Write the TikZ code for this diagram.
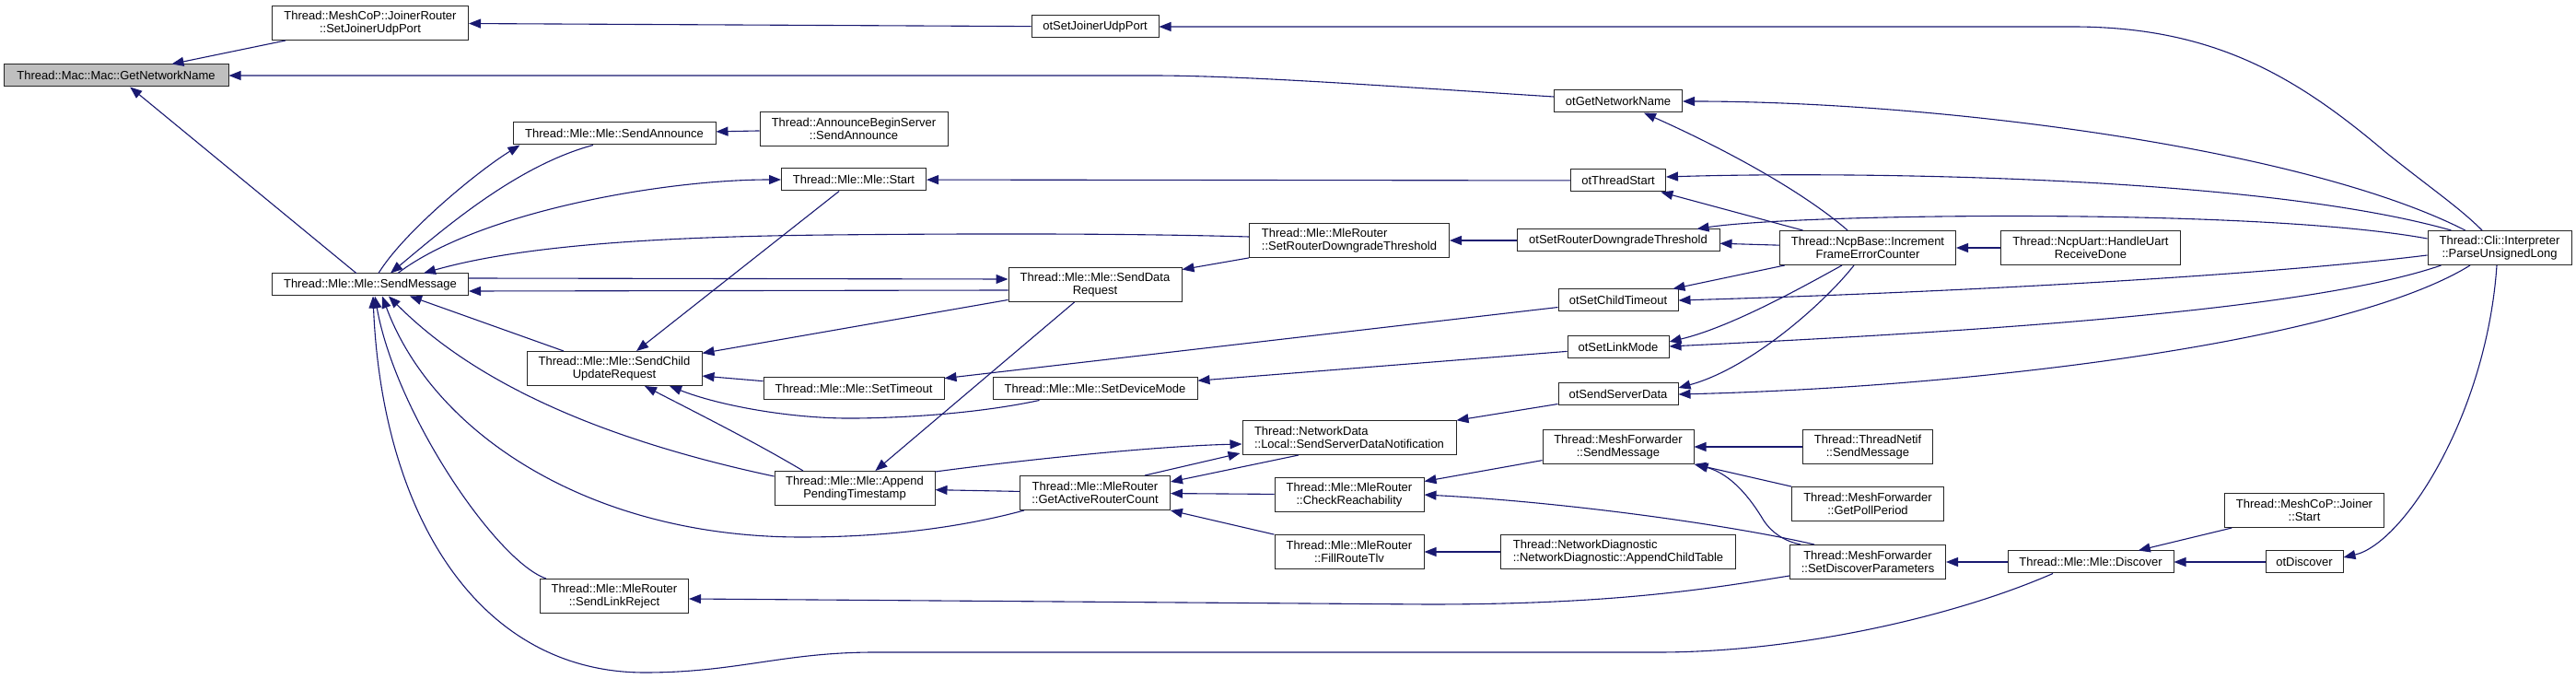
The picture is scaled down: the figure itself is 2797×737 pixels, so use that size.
\documentclass[tikz,border=0pt]{standalone}
\usepackage{fontspec}
\setmainfont{Liberation Sans}
\usetikzlibrary{arrows.meta, calc}
\definecolor{edgeblue}{RGB}{25, 25, 112}
\definecolor{hlgray}{RGB}{191, 191, 191}

\begin{document}
\begin{tikzpicture}[
    x=0.5pt, y=-0.5pt,
    fn/.style={rectangle, draw=black!85, line width=0.5pt, fill=white, inner sep=0pt, minimum height=12pt, align=center, font=\fontsize{6.5pt}{6.9pt}\selectfont},
    fn2/.style={fn, minimum height=18.5pt},
    bw/.style={minimum width=#1*0.5pt},
    cl/.style={{Triangle[length=6.5pt, width=5pt]}-, draw=edgeblue, line width=0.55pt}
  ]
  \useasboundingbox (0,0) rectangle (2797,737);

  \node[fn, bw=244, fill=hlgray] (gnn) at (126,82) {Thread::Mac::Mac::GetNetworkName};
  \node[fn2, bw=213] (jrUdp) at (402,25) {Thread::MeshCoP::JoinerRouter\\::SetJoinerUdpPort};
  \node[fn, bw=213] (sendMsg) at (402,309) {Thread::Mle::Mle::SendMessage};
  \node[fn, bw=220] (sendAnn) at (667,145) {Thread::Mle::Mle::SendAnnounce};
  \node[fn2, bw=204] (annBegin) at (927,140) {Thread::AnnounceBeginServer\\::SendAnnounce};
  \node[fn, bw=157] (mleStart) at (927,195) {Thread::Mle::Mle::Start};
  \node[fn2, bw=188] (dataReq) at (1189,309) {Thread::Mle::Mle::SendData\\Request};
  \node[fn2, bw=217, align=left] (rtrDown) at (1465,261) {Thread::Mle::MleRouter\\::SetRouterDowngradeThreshold};
  \node[fn, bw=138] (otJoinUdp) at (1189,29) {otSetJoinerUdpPort};
  \node[fn, bw=139] (otGetName) at (1757,110) {otGetNetworkName};
  \node[fn, bw=103] (otStart) at (1757,196) {otThreadStart};
  \node[fn, bw=220] (otRtrDown) at (1757,261) {otSetRouterDowngradeThreshold};
  \node[fn2, bw=191] (incErr) at (2028,269) {Thread::NcpBase::Increment\\FrameErrorCounter};
  \node[fn2, bw=195] (uartDone) at (2270,269) {Thread::NcpUart::HandleUart\\ReceiveDone};
  \node[fn2, bw=156] (parseUL) at (2714,269) {Thread::Cli::Interpreter\\::ParseUnsignedLong};
  \node[fn, bw=130] (otChildTo) at (1757,326) {otSetChildTimeout};
  \node[fn, bw=110] (otLinkMode) at (1757,377) {otSetLinkMode};
  \node[fn, bw=130] (otSrvData) at (1757,428) {otSendServerData};
  \node[fn2, bw=190] (childUpd) at (667,400) {Thread::Mle::Mle::SendChild\\UpdateRequest};
  \node[fn, bw=196] (setTimeout) at (927,422) {Thread::Mle::Mle::SetTimeout};
  \node[fn, bw=222] (devMode) at (1189,422) {Thread::Mle::Mle::SetDeviceMode};
  \node[fn2, bw=232, align=left] (srvNotif) at (1465,475) {Thread::NetworkData\\::Local::SendServerDataNotification};
  \node[fn2, bw=174] (pendTs) at (928,530) {Thread::Mle::Mle::Append\\PendingTimestamp};
  \node[fn2, bw=163] (activeCnt) at (1189,535) {Thread::Mle::MleRouter\\::GetActiveRouterCount};
  \node[fn2, bw=162] (checkReach) at (1465,537) {Thread::Mle::MleRouter\\::CheckReachability};
  \node[fn2, bw=162] (fillRoute) at (1465,599) {Thread::Mle::MleRouter\\::FillRouteTlv};
  \node[fn2, bw=164] (mfSend) at (1757,485) {Thread::MeshForwarder\\::SendMessage};
  \node[fn2, bw=141] (netifSend) at (2028,485) {Thread::ThreadNetif\\::SendMessage};
  \node[fn2, bw=165] (pollPer) at (2028,547) {Thread::MeshForwarder\\::GetPollPeriod};
  \node[fn2, bw=169] (discParam) at (2028,610) {Thread::MeshForwarder\\::SetDiscoverParameters};
  \node[fn2, bw=255, align=left] (childTbl) at (1757,599) {Thread::NetworkDiagnostic\\::NetworkDiagnostic::AppendChildTable};
  \node[fn2, bw=161] (linkRej) at (667,647) {Thread::Mle::MleRouter\\::SendLinkReject};
  \node[fn, bw=180] (discover) at (2270,610) {Thread::Mle::Mle::Discover};
  \node[fn2, bw=173] (joinStart) at (2502,554) {Thread::MeshCoP::Joiner\\::Start};
  \node[fn, bw=84] (otDiscover) at (2502,610) {otDiscover};

  \draw[cl] (gnn) -- (jrUdp);
  \draw[cl] (gnn.east) -- (1250,82) .. controls (1350,82) and (1500,93) .. ($(otGetName.west)+(0,-5)$);
  \draw[cl] (gnn) -- (sendMsg);
  \draw[cl] (jrUdp) -- (otJoinUdp);
  \draw[cl] (otJoinUdp.east) -- (2250,29) .. controls (2400,29) and (2490,80) .. (2590,165) .. controls (2640,205) and (2670,225) .. (parseUL);
  \draw[cl] (otGetName) .. controls (2100,110) and (2500,160) .. (parseUL);
  \draw[cl] (otGetName) .. controls (1880,165) and (1960,210) .. (incErr);

  \draw[cl] ($(sendAnn.south west)+(8,0)$) .. controls (520,185) and (440,250) .. ($(sendMsg.north)+(9,0)$);
  \draw[cl] ($(sendMsg.north)+(22,0)$) .. controls (480,250) and (560,180) .. ($(sendAnn.south)+(-23,0)$);
  \draw[cl] (mleStart.west) .. controls (720,195) and (520,230) .. ($(sendMsg.north)+(30,0)$);
  \draw[cl] ($(sendMsg.north)+(58,0)$) .. controls (560,268) and (700,257) .. (900,255) .. controls (1100,253) and (1250,254) .. ($(rtrDown.west)+(0,-4)$);
  \draw[cl] ($(dataReq.west)+(0,-6)$) -- ($(sendMsg.east)+(0,-7)$);
  \draw[cl] ($(sendMsg.east)+(0,7)$) -- ($(dataReq.west)+(0,6)$);
  \draw[cl] ($(sendMsg.south)+(43,0)$) -- ($(childUpd.north)+(-55,0)$);
  \draw[cl] ($(sendMsg.south)+(20,0)$) .. controls (500,400) and (620,470) .. ($(pendTs.west)+(0,-13)$);
  \draw[cl] ($(sendMsg.south)+(13,0)$) .. controls (470,470) and (640,583) .. (870,583) .. controls (980,583) and (1060,568) .. ($(activeCnt.south west)+(5,0)$);
  \draw[cl] ($(sendMsg.south)+(5,0)$) .. controls (430,450) and (540,610) .. ($(linkRej.north west)+(7,0)$);
  \draw[cl] ($(sendMsg.south)+(3,0)$) .. controls (415,560) and (520,730) .. (700,730) .. controls (800,730) and (850,708) .. (950,708) -- (1800,708) .. controls (1950,708) and (2120,670) .. ($(discover.south)+(-41,0)$);

  \draw[cl] (mleStart) -- (otStart);
  \draw[cl] (childUpd) -- (mleStart);
  \draw[cl] (sendAnn) -- (annBegin);
  \draw[cl] (dataReq) -- (rtrDown);
  \draw[cl] (childUpd) -- (dataReq);
  \draw[cl] (pendTs) -- (dataReq);
  \draw[cl] (childUpd) -- (setTimeout);
  \draw[cl] ($(childUpd.south)+(60,0)$) .. controls (780,440) and (860,455) .. (930,454) .. controls (1010,453) and (1080,445) .. ($(devMode.south west)+(51,0)$);
  \draw[cl] ($(childUpd.south)+(33,0)$) .. controls (760,450) and (820,480) .. ($(pendTs.north)+(-56,0)$);
  \draw[cl] (setTimeout) -- (otChildTo);
  \draw[cl] (devMode) -- (otLinkMode);
  \draw[cl] (rtrDown) -- (otRtrDown);
  \draw[cl] (pendTs) -- (activeCnt);
  \draw[cl] ($(srvNotif.west)+(0,7)$) .. controls (1260,484) and (1120,498) .. ($(pendTs.north east)+(0,1)$);
  \draw[cl] ($(srvNotif.south west)+(-2,-2)$) -- ($(activeCnt.north east)+(-28,0)$);
  \draw[cl] ($(activeCnt.east)+(0,-12)$) -- ($(srvNotif.south)+(-55,0)$);
  \draw[cl] (activeCnt) -- (checkReach);
  \draw[cl] (activeCnt) -- (fillRoute);
  \draw[cl] (srvNotif) -- (otSrvData);
  \draw[cl] (checkReach) -- (mfSend);
  \draw[cl] (checkReach.east) .. controls (1700,545) and (1880,570) .. ($(discParam.north west)+(27,0)$);
  \draw[cl] (fillRoute) -- (childTbl);
  \draw[cl] (mfSend) -- (netifSend);
  \draw[cl] (mfSend) -- (pollPer);
  \draw[cl] ($(mfSend.south east)+(2,0)$) .. controls (1880,515) and (1900,540) .. (1915,565) .. controls (1925,580) and (1940,588) .. ($(discParam.north west)+(12,0)$);
  \draw[cl] (discParam) -- (discover);
  \draw[cl] ($(linkRej.east)+(0,3)$) -- (1550,656) .. controls (1750,656) and (1850,640) .. ($(discParam.west)+(0,15)$);
  \draw[cl] (discover) -- (joinStart);
  \draw[cl] (discover) -- (otDiscover);
  \draw[cl] ($(otDiscover.east)+(0,-5)$) .. controls (2610,590) and (2700,450) .. ($(parseUL.south)+(-3,0)$);

  \draw[cl] ($(otStart.east)+(0,-4)$) .. controls (2000,186) and (2450,190) .. ($(parseUL.north west)+(26,0)$);
  \draw[cl] (otStart) -- (incErr);
  \draw[cl] (otRtrDown) -- (incErr);
  \draw[cl] ($(otRtrDown.north east)+(-25,0)$) .. controls (1950,232) and (2450,225) .. ($(parseUL.west)+(0,-10)$);
  \draw[cl] (otChildTo) -- (incErr);
  \draw[cl] (otChildTo.east) .. controls (2100,318) and (2450,300) .. ($(parseUL.west)+(0,8)$);
  \draw[cl] ($(otLinkMode.east)+(0,-6)$) .. controls (1880,355) and (1960,310) .. ($(incErr.south)+(-28,0)$);
  \draw[cl] ($(otLinkMode.east)+(0,-1)$) .. controls (2100,362) and (2500,340) .. ($(parseUL.south west)+(15,0)$);
  \draw[cl] ($(otSrvData.east)+(0,-7)$) .. controls (1900,400) and (1980,330) .. ($(incErr.south)+(-15,0)$);
  \draw[cl] (otSrvData.east) .. controls (2150,420) and (2550,370) .. ($(parseUL.south)+(-32,0)$);
  \draw[cl] (incErr) -- (uartDone);
\end{tikzpicture}
\end{document}
